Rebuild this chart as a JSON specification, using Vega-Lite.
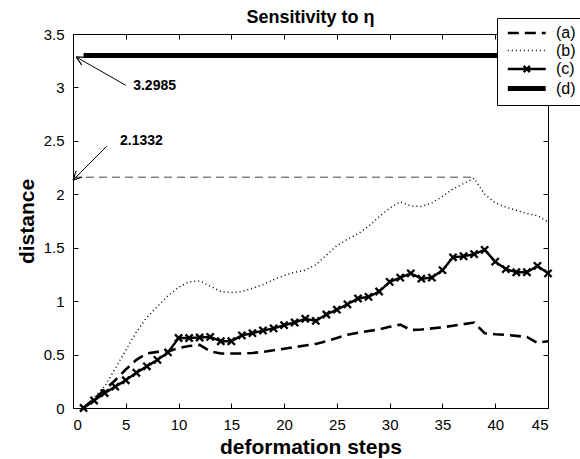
{
  "$schema": "https://vega.github.io/schema/vega-lite/v6.json",
  "width": 475,
  "height": 374,
  "autosize": {"type": "none"},
  "padding": {"left": 73, "top": 34, "right": 32, "bottom": 51},
  "background": "white",
  "title": {"text": "Sensitivity to η", "font": "Liberation Sans", "fontSize": 18, "fontWeight": "bold", "color": "black", "offset": -9, "anchor": "middle"},
  "config": {
    "view": {"stroke": "black", "strokeWidth": 1},
    "axis": {"grid": false, "domainColor": "black", "tickColor": "black", "labelColor": "black", "titleColor": "black", "labelFont": "Liberation Sans", "labelFontSize": 15, "titleFont": "Liberation Sans", "titleFontSize": 21, "titleFontWeight": "bold", "tickSize": -5, "labelPadding": 14}
  },
  "datasets": {
    "curves": [
      {"step": 1, "distance": 0, "series": "(a)"}, {"step": 2, "distance": 0.085, "series": "(a)"}, {"step": 3, "distance": 0.17, "series": "(a)"}, {"step": 4, "distance": 0.26, "series": "(a)"}, {"step": 5, "distance": 0.36, "series": "(a)"}, {"step": 6, "distance": 0.45, "series": "(a)"}, {"step": 7, "distance": 0.51, "series": "(a)"}, {"step": 8, "distance": 0.525, "series": "(a)"}, {"step": 9, "distance": 0.53, "series": "(a)"}, {"step": 10, "distance": 0.56, "series": "(a)"}, {"step": 11, "distance": 0.58, "series": "(a)"}, {"step": 12, "distance": 0.59, "series": "(a)"}, {"step": 13, "distance": 0.53, "series": "(a)"}, {"step": 14, "distance": 0.51, "series": "(a)"}, {"step": 15, "distance": 0.51, "series": "(a)"}, {"step": 16, "distance": 0.51, "series": "(a)"}, {"step": 17, "distance": 0.515, "series": "(a)"}, {"step": 18, "distance": 0.525, "series": "(a)"}, {"step": 19, "distance": 0.54, "series": "(a)"}, {"step": 20, "distance": 0.555, "series": "(a)"}, {"step": 21, "distance": 0.57, "series": "(a)"}, {"step": 22, "distance": 0.585, "series": "(a)"}, {"step": 23, "distance": 0.6, "series": "(a)"}, {"step": 24, "distance": 0.625, "series": "(a)"}, {"step": 25, "distance": 0.655, "series": "(a)"}, {"step": 26, "distance": 0.685, "series": "(a)"}, {"step": 27, "distance": 0.705, "series": "(a)"}, {"step": 28, "distance": 0.72, "series": "(a)"}, {"step": 29, "distance": 0.735, "series": "(a)"}, {"step": 30, "distance": 0.76, "series": "(a)"}, {"step": 31, "distance": 0.78, "series": "(a)"}, {"step": 32, "distance": 0.73, "series": "(a)"}, {"step": 33, "distance": 0.735, "series": "(a)"}, {"step": 34, "distance": 0.745, "series": "(a)"}, {"step": 35, "distance": 0.755, "series": "(a)"}, {"step": 36, "distance": 0.77, "series": "(a)"}, {"step": 37, "distance": 0.785, "series": "(a)"}, {"step": 38, "distance": 0.8, "series": "(a)"}, {"step": 39, "distance": 0.7, "series": "(a)"}, {"step": 40, "distance": 0.69, "series": "(a)"}, {"step": 41, "distance": 0.685, "series": "(a)"}, {"step": 42, "distance": 0.675, "series": "(a)"}, {"step": 43, "distance": 0.665, "series": "(a)"}, {"step": 44, "distance": 0.61, "series": "(a)"}, {"step": 45, "distance": 0.625, "series": "(a)"},
      {"step": 1, "distance": 0, "series": "(b)"}, {"step": 2, "distance": 0.1, "series": "(b)"}, {"step": 3, "distance": 0.2, "series": "(b)"}, {"step": 4, "distance": 0.37, "series": "(b)"}, {"step": 5, "distance": 0.54, "series": "(b)"}, {"step": 6, "distance": 0.71, "series": "(b)"}, {"step": 7, "distance": 0.85, "series": "(b)"}, {"step": 8, "distance": 0.95, "series": "(b)"}, {"step": 9, "distance": 1.05, "series": "(b)"}, {"step": 10, "distance": 1.13, "series": "(b)"}, {"step": 11, "distance": 1.18, "series": "(b)"}, {"step": 12, "distance": 1.19, "series": "(b)"}, {"step": 13, "distance": 1.14, "series": "(b)"}, {"step": 14, "distance": 1.09, "series": "(b)"}, {"step": 15, "distance": 1.08, "series": "(b)"}, {"step": 16, "distance": 1.09, "series": "(b)"}, {"step": 17, "distance": 1.12, "series": "(b)"}, {"step": 18, "distance": 1.155, "series": "(b)"}, {"step": 19, "distance": 1.2, "series": "(b)"}, {"step": 20, "distance": 1.24, "series": "(b)"}, {"step": 21, "distance": 1.27, "series": "(b)"}, {"step": 22, "distance": 1.29, "series": "(b)"}, {"step": 23, "distance": 1.34, "series": "(b)"}, {"step": 24, "distance": 1.43, "series": "(b)"}, {"step": 25, "distance": 1.52, "series": "(b)"}, {"step": 26, "distance": 1.58, "series": "(b)"}, {"step": 27, "distance": 1.63, "series": "(b)"}, {"step": 28, "distance": 1.7, "series": "(b)"}, {"step": 29, "distance": 1.79, "series": "(b)"}, {"step": 30, "distance": 1.87, "series": "(b)"}, {"step": 31, "distance": 1.93, "series": "(b)"}, {"step": 32, "distance": 1.89, "series": "(b)"}, {"step": 33, "distance": 1.885, "series": "(b)"}, {"step": 34, "distance": 1.92, "series": "(b)"}, {"step": 35, "distance": 1.98, "series": "(b)"}, {"step": 36, "distance": 2.05, "series": "(b)"}, {"step": 37, "distance": 2.1, "series": "(b)"}, {"step": 38, "distance": 2.15, "series": "(b)"}, {"step": 39, "distance": 2.0, "series": "(b)"}, {"step": 40, "distance": 1.92, "series": "(b)"}, {"step": 41, "distance": 1.88, "series": "(b)"}, {"step": 42, "distance": 1.85, "series": "(b)"}, {"step": 43, "distance": 1.82, "series": "(b)"}, {"step": 44, "distance": 1.8, "series": "(b)"}, {"step": 45, "distance": 1.74, "series": "(b)"},
      {"step": 1, "distance": 0, "series": "(c)"}, {"step": 2, "distance": 0.07, "series": "(c)"}, {"step": 3, "distance": 0.14, "series": "(c)"}, {"step": 4, "distance": 0.2, "series": "(c)"}, {"step": 5, "distance": 0.26, "series": "(c)"}, {"step": 6, "distance": 0.33, "series": "(c)"}, {"step": 7, "distance": 0.39, "series": "(c)"}, {"step": 8, "distance": 0.45, "series": "(c)"}, {"step": 9, "distance": 0.52, "series": "(c)"}, {"step": 10, "distance": 0.655, "series": "(c)"}, {"step": 11, "distance": 0.655, "series": "(c)"}, {"step": 12, "distance": 0.66, "series": "(c)"}, {"step": 13, "distance": 0.665, "series": "(c)"}, {"step": 14, "distance": 0.625, "series": "(c)"}, {"step": 15, "distance": 0.625, "series": "(c)"}, {"step": 16, "distance": 0.68, "series": "(c)"}, {"step": 17, "distance": 0.7, "series": "(c)"}, {"step": 18, "distance": 0.725, "series": "(c)"}, {"step": 19, "distance": 0.745, "series": "(c)"}, {"step": 20, "distance": 0.775, "series": "(c)"}, {"step": 21, "distance": 0.8, "series": "(c)"}, {"step": 22, "distance": 0.835, "series": "(c)"}, {"step": 23, "distance": 0.815, "series": "(c)"}, {"step": 24, "distance": 0.875, "series": "(c)"}, {"step": 25, "distance": 0.92, "series": "(c)"}, {"step": 26, "distance": 0.97, "series": "(c)"}, {"step": 27, "distance": 1.025, "series": "(c)"}, {"step": 28, "distance": 1.04, "series": "(c)"}, {"step": 29, "distance": 1.09, "series": "(c)"}, {"step": 30, "distance": 1.18, "series": "(c)"}, {"step": 31, "distance": 1.22, "series": "(c)"}, {"step": 32, "distance": 1.26, "series": "(c)"}, {"step": 33, "distance": 1.21, "series": "(c)"}, {"step": 34, "distance": 1.22, "series": "(c)"}, {"step": 35, "distance": 1.29, "series": "(c)"}, {"step": 36, "distance": 1.41, "series": "(c)"}, {"step": 37, "distance": 1.42, "series": "(c)"}, {"step": 38, "distance": 1.44, "series": "(c)"}, {"step": 39, "distance": 1.48, "series": "(c)"}, {"step": 40, "distance": 1.37, "series": "(c)"}, {"step": 41, "distance": 1.3, "series": "(c)"}, {"step": 42, "distance": 1.27, "series": "(c)"}, {"step": 43, "distance": 1.27, "series": "(c)"}, {"step": 44, "distance": 1.33, "series": "(c)"}, {"step": 45, "distance": 1.26, "series": "(c)"},
      {"step": 1, "distance": 3.2985, "series": "(d)"}, {"step": 45, "distance": 3.2985, "series": "(d)"}
    ],
    "refline": [{"step": 0, "distance": 2.16}, {"step": 38, "distance": 2.16}],
    "arrows": [
      {"id": "d", "tipx": 0.3, "tipy": 3.285, "tailx": 5.0, "taily": 3.02, "label": "3.2985", "lx": 5.7, "ly": 3.01},
      {"id": "b", "tipx": 0.0, "tipy": 2.133, "tailx": 3.2, "taily": 2.45, "label": "2.1332", "lx": 4.45, "ly": 2.5}
    ]
  },
  "resolve": {"axis": {"x": "independent", "y": "independent"}},
  "layer": [
    {
      "data": {"name": "curves"},
      "mark": {"type": "line", "color": "black", "strokeCap": "butt"},
      "encoding": {
        "x": {"field": "step", "type": "quantitative", "scale": {"domain": [0, 45], "nice": false, "zero": false}, "axis": {"values": [0, 5, 10, 15, 20, 25, 30, 35, 40, 45], "title": "deformation steps", "format": "~g", "titlePadding": 4}},
        "y": {"field": "distance", "type": "quantitative", "scale": {"domain": [0, 3.5], "nice": false}, "axis": {"values": [0, 0.5, 1, 1.5, 2, 2.5, 3, 3.5], "title": "distance", "format": "~g", "titlePadding": 6}},
        "detail": {"field": "series"},
        "strokeDash": {"field": "series", "type": "nominal", "scale": {"domain": ["(a)", "(b)", "(c)", "(d)"], "range": [[11, 6], [1, 3], [1, 0], [1, 0]]},
          "legend": {"title": null, "orient": "none", "legendX": 424, "legendY": -16, "padding": 6, "strokeColor": "black", "fillColor": "white", "cornerRadius": 0, "symbolType": "M-0.75,0L4.25,0", "symbolSize": 230, "symbolStrokeColor": "black", "labelFont": "Liberation Sans", "labelFontSize": 16, "labelColor": "black", "labelOffset": 32, "rowPadding": 1,
            "encode": {"symbols": {"update": {"shape": {"signal": "datum.value === '(c)' ? 'M-0.75,0L4.25,0M1.35,-0.4L2.15,0.4M1.35,0.4L2.15,-0.4' : 'M-0.75,0L4.25,0'"}}}}}},
        "strokeWidth": {"field": "series", "type": "nominal", "scale": {"type": "ordinal", "domain": ["(a)", "(b)", "(c)", "(d)"], "range": [2.6, 1.5, 2.4, 5]}}
      }
    },
    {
      "data": {"name": "refline"},
      "mark": {"type": "line", "color": "#444", "strokeWidth": 1, "strokeDash": [8, 5]},
      "encoding": {
        "x": {"field": "step", "type": "quantitative", "axis": {"orient": "top", "values": [0, 5, 10, 15, 20, 25, 30, 35, 40, 45], "labels": false, "title": null, "domain": false}},
        "y": {"field": "distance", "type": "quantitative", "axis": {"orient": "right", "values": [0, 0.5, 1, 1.5, 2, 2.5, 3, 3.5], "labels": false, "title": null, "domain": false}}
      }
    },
    {
      "data": {"name": "curves"},
      "transform": [{"filter": "datum.series === '(c)'"}],
      "mark": {"type": "point", "shape": "M-1,-1L1,1M-1,1L1,-1", "filled": false, "stroke": "black", "strokeWidth": 2.3, "size": 52, "opacity": 1},
      "encoding": {
        "x": {"field": "step", "type": "quantitative", "axis": null},
        "y": {"field": "distance", "type": "quantitative", "axis": null}
      }
    },
    {
      "data": {"name": "arrows"},
      "mark": {"type": "rule", "color": "black", "strokeWidth": 1},
      "encoding": {
        "x": {"field": "tailx", "type": "quantitative", "axis": null},
        "y": {"field": "taily", "type": "quantitative", "axis": null},
        "x2": {"field": "tipx"},
        "y2": {"field": "tipy"}
      }
    },
    {
      "data": {"name": "arrows"},
      "transform": [{"filter": "datum.id === 'd'"}],
      "mark": {"type": "point", "shape": "M0,0L-1,-0.5M0,0L-1,0.5", "filled": false, "stroke": "black", "strokeWidth": 1.2, "size": 300, "angle": 209, "opacity": 1},
      "encoding": {
        "x": {"field": "tipx", "type": "quantitative", "axis": null},
        "y": {"field": "tipy", "type": "quantitative", "axis": null}
      }
    },
    {
      "data": {"name": "arrows"},
      "transform": [{"filter": "datum.id === 'b'"}],
      "mark": {"type": "point", "shape": "M0,0L-1,-0.5M0,0L-1,0.5", "filled": false, "stroke": "black", "strokeWidth": 1.2, "size": 300, "angle": 135, "opacity": 1},
      "encoding": {
        "x": {"field": "tipx", "type": "quantitative", "axis": null},
        "y": {"field": "tipy", "type": "quantitative", "axis": null}
      }
    },
    {
      "data": {"name": "arrows"},
      "mark": {"type": "text", "align": "left", "baseline": "middle", "font": "Liberation Sans", "fontSize": 14, "fontWeight": "bold", "color": "black"},
      "encoding": {
        "x": {"field": "lx", "type": "quantitative", "axis": null},
        "y": {"field": "ly", "type": "quantitative", "axis": null},
        "text": {"field": "label"}
      }
    }
  ]
}
